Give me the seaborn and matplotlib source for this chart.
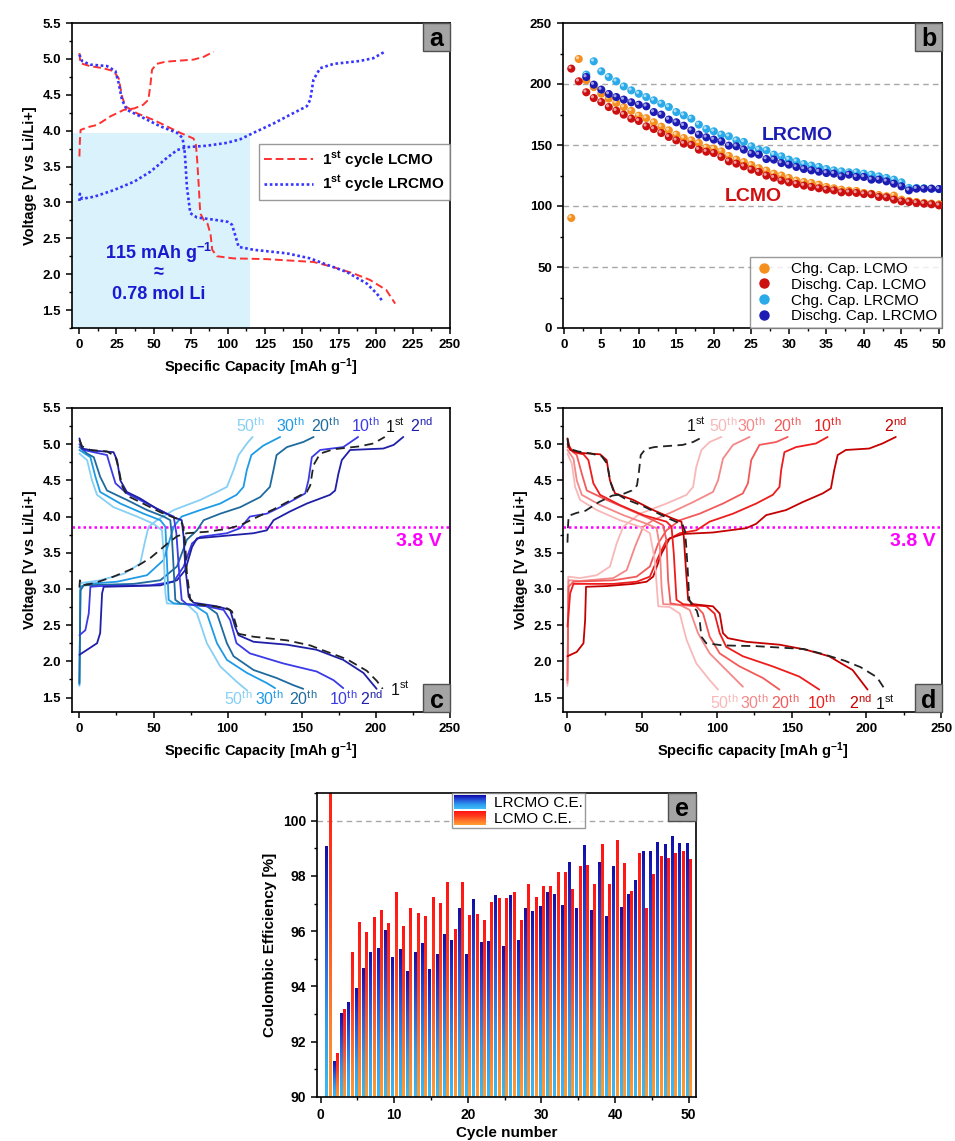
import numpy as np
import pandas as pd
import matplotlib
matplotlib.use("Agg")
import matplotlib.pyplot as plt
import seaborn as sns
from matplotlib.patches import Rectangle
from matplotlib.lines import Line2D
from matplotlib.legend_handler import HandlerBase
from matplotlib.ticker import MultipleLocator
from matplotlib.colors import LinearSegmentedColormap
import matplotlib.transforms as mtransforms

# ---------------------------------------------------------------- data
# first cycle (panel a, reused as the dashed reference in c and d)
lcmo_1st_chg = [(0, 3.64), (0.3, 3.85), (0.8, 4.01), (6, 4.05), (12, 4.08), (21, 4.2), (30, 4.29),
                (37, 4.31), (43, 4.36), (46.5, 4.43), (47.8, 4.62), (49, 4.85), (52, 4.93), (58, 4.96),
                (64, 4.97), (77, 4.99), (84, 5.03), (90.5, 5.1)]
lcmo_1st_dis = [(0, 5.08), (0.7, 4.94), (7, 4.9), (16, 4.87), (23, 4.83), (26.5, 4.73), (28.7, 4.48),
                (31, 4.34), (39, 4.24), (50, 4.15), (59, 4.06), (68, 3.97), (77, 3.89), (78.6, 3.8),
                (79.4, 3.6), (80.4, 3.27), (81.5, 2.85), (84, 2.75), (86.5, 2.7), (88.5, 2.55),
                (89.6, 2.34), (92.8, 2.25), (104, 2.22), (126, 2.21), (158, 2.17), (171, 2.1),
                (185, 2.01), (196, 1.92), (207, 1.78), (213, 1.59)]
lrcmo_1st_chg = [(0, 3.02), (0.3, 3.12), (1.8, 3.05), (10, 3.08), (23, 3.17), (37, 3.29), (48, 3.43),
                 (59, 3.62), (66, 3.73), (72.5, 3.77), (86, 3.79), (99.5, 3.83), (108.5, 3.88),
                 (117.5, 3.97), (131, 4.1), (142, 4.22), (153.4, 4.34), (155.7, 4.43), (157.9, 4.71),
                 (162.4, 4.87), (171.4, 4.93), (189, 4.97), (198.3, 5.01), (206, 5.1)]
lrcmo_1st_dis = [(0, 5.06), (1.8, 4.97), (7.4, 4.92), (18.6, 4.9), (24.3, 4.83), (26.5, 4.66),
                 (28.7, 4.43), (32, 4.29), (41, 4.2), (54.6, 4.06), (65.8, 3.97), (69.5, 3.9),
                 (70.8, 3.75), (71.4, 3.6), (72.5, 3.22), (74.8, 2.85), (79.3, 2.79), (90.5, 2.76),
                 (100, 2.73), (102.9, 2.69), (105, 2.55), (107.4, 2.38), (117.5, 2.34), (140, 2.29),
                 (155.7, 2.22), (164.6, 2.15), (180.4, 2.03), (193.8, 1.87), (200.6, 1.73), (204.6, 1.62)]

# LRCMO galvanostatic curves (panel c)
lrcmo_dis_2 = [(0, 5.08), (1.8, 4.94), (9.7, 4.91), (23, 4.89), (25.4, 4.78), (27.6, 4.5), (32, 4.34),
               (41, 4.25), (52, 4.11), (63.6, 3.99), (69, 3.95), (70.3, 3.72), (71.4, 3.31), (73.7, 2.89),
               (77, 2.81), (92.8, 2.76), (101.7, 2.71), (105, 2.48), (107.4, 2.36), (117.5, 2.27),
               (140, 2.23), (160, 2.16), (178, 2.02), (191.6, 1.84), (200.5, 1.62)]
lrcmo_dis_10 = [(0, 5.0), (2.9, 4.92), (14, 4.87), (18.6, 4.85), (20.9, 4.69), (24.3, 4.46), (32, 4.32),
                (45.6, 4.18), (59, 4.04), (63.6, 4.0), (65.4, 3.77), (67, 3.31), (69, 2.85), (72.5, 2.79),
                (86, 2.76), (97.3, 2.71), (101.7, 2.57), (106, 2.25), (115, 2.11), (137.7, 1.97),
                (160, 1.86), (171.4, 1.74), (178, 1.63)]
lrcmo_dis_20 = [(0, 4.96), (5.2, 4.87), (9.7, 4.82), (14, 4.55), (18.6, 4.36), (32, 4.23), (45.6, 4.09),
                (56.8, 4.0), (61.3, 3.95), (62.4, 3.72), (63.5, 3.31), (64.7, 2.85), (68, 2.8), (86, 2.76),
                (92.8, 2.66), (99.5, 2.25), (104, 2.07), (117.5, 1.88), (133, 1.77), (144.4, 1.67),
                (151, 1.62)]
lrcmo_dis_30 = [(0, 4.92), (7.4, 4.82), (10.8, 4.55), (14, 4.34), (27.6, 4.18), (43.3, 4.04), (54.6, 3.95),
                (58, 3.86), (59, 3.4), (60.2, 2.85), (63.6, 2.8), (77, 2.78), (86, 2.66), (92.8, 2.25),
                (99.5, 2.02), (113, 1.84), (126.4, 1.7), (132, 1.63)]
lrcmo_dis_50 = [(0, 4.87), (5.2, 4.78), (8.5, 4.5), (11.9, 4.3), (23, 4.13), (38.9, 4.0), (50, 3.9),
                (55.7, 3.81), (56.8, 3.49), (58, 2.94), (59, 2.8), (72.5, 2.79), (79.3, 2.66), (86, 2.25),
                (95, 1.93), (106, 1.72), (113, 1.6)]
lrcmo_chg_2 = [(0, 2.09), (5.2, 2.16), (11.9, 2.25), (14, 2.39), (15.3, 2.94), (16.4, 3.03), (36.6, 3.04),
               (54.6, 3.05), (65.8, 3.12), (71.4, 3.26), (76, 3.58), (79.3, 3.7), (90.5, 3.72),
               (117.5, 3.77), (126.4, 3.81), (131, 3.95), (142, 4.07), (153.4, 4.18), (169, 4.3),
               (172.5, 4.36), (174.7, 4.59), (177, 4.78), (182.6, 4.92), (205, 4.94), (212, 4.99),
               (218.5, 5.1)]
lrcmo_chg_10 = [(0, 2.36), (4, 2.43), (6.3, 2.66), (7.4, 3.03), (14, 3.04), (47.8, 3.05), (63.6, 3.1),
                (70.3, 3.31), (76, 3.63), (81.5, 3.72), (99.5, 3.77), (108.5, 3.84), (115, 4.0),
                (126.4, 4.04), (135.4, 4.13), (144.4, 4.23), (152.3, 4.32), (154.5, 4.5), (156.8, 4.82),
                (162.4, 4.92), (178, 4.96), (188, 5.1)]
lrcmo_chg_20 = [(0, 1.7), (0.7, 2.98), (2.9, 3.05), (36.6, 3.07), (54.6, 3.12), (65.8, 3.31), (72.5, 3.68),
                (79.3, 3.81), (83.8, 3.95), (95, 4.04), (108.5, 4.13), (122, 4.27), (128.5, 4.41),
                (130.9, 4.64), (133, 4.85), (140, 4.96), (151, 5.03), (158, 5.1)]
lrcmo_chg_30 = [(0, 1.68), (0.7, 3.03), (5.2, 3.07), (25.4, 3.1), (45.6, 3.19), (56.8, 3.4), (63.6, 3.86),
                (69, 4.0), (81.5, 4.09), (95, 4.18), (106, 4.3), (110.7, 4.41), (112.9, 4.64), (116, 4.85),
                (124, 4.98), (135.4, 5.1)]
lrcmo_chg_50 = [(0, 1.66), (0.7, 3.08), (14, 3.12), (30, 3.21), (41, 3.35), (44.4, 3.67), (46.7, 3.86),
                (52.3, 3.95), (63.6, 4.09), (81.5, 4.23), (92.8, 4.34), (99.5, 4.41), (104, 4.64),
                (107.4, 4.85), (113, 5.01), (116.8, 5.1)]

# LCMO galvanostatic curves (panel d)
lcmo_dis_2 = [(0, 5.08), (1.8, 4.92), (8.4, 4.88), (21.8, 4.86), (26.2, 4.78), (28.4, 4.5), (31.8, 4.32),
              (44, 4.23), (57.3, 4.09), (70.7, 3.97), (76.2, 3.93), (77.8, 3.72), (79.1, 3.31), (80.7, 2.85),
              (84, 2.79), (97.3, 2.76), (101.8, 2.66), (104, 2.39), (107.3, 2.32), (119.6, 2.27),
              (141.8, 2.23), (159.6, 2.16), (175, 2.07), (190.7, 1.88), (200.7, 1.61)]
lcmo_dis_10 = [(0, 5.0), (4, 4.89), (10.7, 4.86), (14, 4.78), (17.3, 4.46), (21.8, 4.3), (35, 4.16),
               (50.7, 4.02), (66.2, 3.93), (69.6, 3.86), (71.1, 3.49), (72.9, 2.85), (77.3, 2.79),
               (92.9, 2.76), (98.4, 2.66), (101.8, 2.39), (106.2, 2.2), (117.3, 2.07), (137.3, 1.93),
               (155, 1.79), (168.4, 1.61)]
lcmo_dis_20 = [(0, 4.96), (6.2, 4.85), (9.6, 4.59), (12.9, 4.36), (26.2, 4.23), (41.8, 4.09), (57.3, 3.95),
               (64, 3.88), (66.2, 3.67), (67.3, 3.12), (68.9, 2.8), (75.1, 2.78), (86.2, 2.76), (90.7, 2.66),
               (95.1, 2.34), (101.8, 2.11), (115.1, 1.93), (130.7, 1.77), (141.8, 1.61)]
lcmo_dis_30 = [(0, 4.92), (4, 4.8), (6.2, 4.5), (9.6, 4.3), (21.8, 4.16), (37.3, 4.02), (53, 3.9),
               (59.6, 3.84), (61.8, 3.58), (62.9, 3.03), (64, 2.79), (75.1, 2.78), (81.8, 2.71),
               (87.3, 2.39), (95.1, 2.11), (106.2, 1.88), (117.3, 1.65)]
lcmo_dis_50 = [(0, 4.87), (2.9, 4.73), (5.1, 4.41), (8.4, 4.23), (19.6, 4.09), (35, 3.95), (48.4, 3.86),
               (55.1, 3.77), (58.4, 3.4), (60.7, 2.76), (68.4, 2.75), (75.1, 2.66), (79.6, 2.3),
               (86.2, 1.97), (95.1, 1.74), (100.7, 1.61)]
lcmo_chg_2 = [(0, 2.07), (6.2, 2.13), (10.7, 2.25), (11.8, 2.57), (12.4, 3.03), (26.2, 3.04), (44, 3.07),
              (52.9, 3.1), (57.3, 3.17), (62.9, 3.49), (68.4, 3.7), (77.3, 3.76), (97.3, 3.78),
              (119.6, 3.84), (126.2, 3.9), (132.9, 4.02), (146.2, 4.09), (157.3, 4.2), (170.7, 4.32),
              (176.2, 4.39), (178.4, 4.64), (180.7, 4.85), (186.2, 4.92), (201.8, 4.94), (210.7, 5.01),
              (219.6, 5.1)]
lcmo_chg_10 = [(0, 2.48), (1.8, 2.94), (4, 3.07), (30.7, 3.07), (46.2, 3.1), (55.1, 3.17), (61.8, 3.49),
               (66.2, 3.67), (75.1, 3.77), (86.2, 3.81), (95.1, 3.93), (110.7, 4.04), (126.2, 4.18),
               (137.3, 4.3), (141.8, 4.41), (142.9, 4.64), (145.1, 4.89), (152.9, 4.96), (166.2, 5.01),
               (174, 5.1)]
lcmo_chg_20 = [(0, 1.74), (0.7, 3.03), (4, 3.1), (30.7, 3.12), (46.2, 3.17), (55.1, 3.31), (60.7, 3.63),
               (66.2, 3.81), (75.1, 3.95), (88.4, 4.04), (104, 4.18), (117.3, 4.32), (120.7, 4.46),
               (122.9, 4.78), (128.4, 4.99), (139.6, 5.03), (147.3, 5.1)]
lcmo_chg_30 = [(0, 1.7), (0.7, 3.12), (8.4, 3.11), (30.7, 3.15), (39.6, 3.26), (45.1, 3.58), (50.7, 3.86),
               (57.3, 3.95), (70.7, 4.07), (84, 4.2), (97.3, 4.34), (100.7, 4.5), (104, 4.8),
               (110.7, 4.99), (121.8, 5.1)]
lcmo_chg_50 = [(0, 1.66), (0.5, 3.17), (8.4, 3.15), (19.6, 3.19), (28.4, 3.31), (32.9, 3.63), (37.3, 3.86),
               (48.4, 4.04), (66.2, 4.18), (79.6, 4.3), (84, 4.41), (86.2, 4.69), (89.6, 4.92),
               (95.1, 5.03), (102.9, 5.1)]

# capacity retention (panel b)
cycles = list(range(1, 51))
chg_lcmo = [90.2, 220.5, 203, 197.5, 192, 188, 184.4, 181, 178, 174, 172, 168.6, 165, 162, 158.5, 155.7,
            153.8, 151.6, 147.8, 147, 144.8, 141, 138, 136, 133.6, 131, 129, 126.5, 125, 123, 120.8,
            119.7, 118.9, 117.5, 115.6, 114.5, 113.4, 112.6, 112.3, 110.7, 110, 109, 108, 108.5, 105.2,
            104.1, 103.3, 102.5, 102, 101.4]
dis_lcmo = [212.6, 202.2, 193.2, 188.5, 185.2, 181.1, 178.1, 174.9, 171.6, 169.7, 165.3, 163.1, 159.8,
            156.6, 153.8, 151.1, 150, 146.2, 144.5, 143.4, 140.2, 136.6, 134.7, 132.5, 129.8, 127.9,
            124.9, 123.2, 120.8, 119.4, 118, 116.7, 115.6, 114.5, 113.4, 112.8, 111.2, 111.2, 110.7,
            109.8, 109.6, 107.4, 107.1, 105.2, 103.8, 103.3, 102.5, 101.9, 101.4, 100.5]
cycles_lrcmo = list(range(3, 51))
chg_lrcmo = [207.7, 218.6, 210.4, 205.7, 202.2, 198, 194.8, 192, 189.3, 186.6, 183.9, 181.1, 177, 174.3,
             171.6, 166.7, 163.1, 161.2, 158.5, 157.1, 153.8, 152.5, 148.9, 146.2, 145.6, 142.1, 140.7,
             138, 136.6, 134.4, 133.1, 132, 130.3, 129.2, 128.4, 127.6, 127.6, 126.5, 125.7, 124.3, 123,
             121.6, 119.4, 114.8, 114.8, 114.5, 114.2, 113.9]
dis_lrcmo = [205.7, 199.5, 195.4, 191.8, 189.3, 187.2, 185, 183, 181.7, 177, 174.9, 170.8, 168.6, 165.8,
             162, 158.5, 156.3, 154.4, 153, 149.5, 148.9, 146.2, 142.9, 142.1, 138.5, 138, 135.2, 133.9,
             132, 130.3, 129.2, 128.1, 127, 126.5, 124.3, 125.7, 123.8, 123.8, 121.6, 121.6, 120.2,
             118.3, 116.1, 112.8, 114.2, 114.2, 114.2, 113.9]

# coulombic efficiency (panel e)
ce_lrcmo = [99.06, 91.30, 93.01, 93.41, 93.92, 94.64, 95.22, 95.37, 96.02, 95.04, 95.35, 94.55, 95.23,
            95.55, 94.60, 95.15, 95.88, 95.65, 96.82, 95.17, 97.13, 95.58, 95.62, 97.28, 95.46, 97.29,
            95.66, 96.81, 96.71, 96.90, 97.41, 97.31, 96.93, 98.49, 96.83, 99.10, 96.75, 98.48, 96.54,
            98.35, 96.86, 97.31, 97.82, 98.90, 98.88, 99.22, 99.12, 99.43, 99.17, 99.18]
ce_lcmo = [102.5, 91.59, 93.18, 95.23, 96.30, 95.95, 96.49, 96.75, 96.28, 97.39, 96.16, 96.83, 96.65,
           96.54, 97.23, 96.99, 97.75, 96.06, 97.75, 96.58, 96.61, 96.40, 97.04, 97.17, 97.18, 97.39,
           96.40, 97.68, 97.23, 97.62, 97.62, 98.13, 98.13, 97.50, 98.33, 98.37, 97.68, 99.14, 97.69,
           99.28, 98.44, 97.44, 98.82, 96.83, 98.04, 98.72, 98.64, 98.80, 98.89, 98.59]

cycle_names = ["2nd", "10th", "20th", "30th", "50th"]
blue_shades = ["#1f1fa8", "#3a3ae6", "#1f6a9e", "#1e9be6", "#86cff5"]
red_shades = ["#c40000", "#ee1c1c", "#f25a5a", "#f48787", "#f8b8b8"]

# ---------------------------------------------------------------- style
sns.set_style("ticks")
plt.rcParams.update({
    "font.family": ["Liberation Sans", "DejaVu Sans"],
    "mathtext.fontset": "custom",
    "mathtext.rm": "Liberation Sans",
    "mathtext.bf": "Liberation Sans:bold",
    "mathtext.it": "Liberation Sans:italic",
    "axes.edgecolor": "black",
    "axes.linewidth": 1.2,
    "xtick.color": "black",
    "ytick.color": "black",
    "text.color": "black",
    "axes.labelcolor": "black",
    "xtick.major.size": 4.5,
    "ytick.major.size": 4.5,
    "xtick.minor.size": 2.5,
    "ytick.minor.size": 2.5,
    "xtick.major.width": 1.1,
    "ytick.major.width": 1.1,
    "xtick.minor.width": 1.0,
    "ytick.minor.width": 1.0,
})

W, H = 955, 1141
fig = plt.figure(figsize=(W / 100, H / 100), dpi=100)


def axes_px(left, top, right, bottom):
    return fig.add_axes([left / W, 1 - bottom / H, (right - left) / W, (bottom - top) / H])


ax_a = axes_px(72, 23, 450, 328)
ax_b = axes_px(563, 23, 942, 328)
ax_c = axes_px(72, 408, 450, 712)
ax_d = axes_px(563, 408, 942, 712)
ax_e = axes_px(317, 793, 696, 1097)

TICK_FS = 9.5
LABEL_FS = 10.5
CAP_LABEL = r"Specific Capacity [mAh g$^{\mathbf{-1}}$]"
V_LABEL = "Voltage [V vs Li/Li+]"


def style_ticks(ax, fs=TICK_FS):
    for lab in ax.get_xticklabels() + ax.get_yticklabels():
        lab.set_fontweight("bold")
        lab.set_fontsize(fs)
    ax.tick_params(which="both", top=False, right=False, direction="out")


def curve(ax, pts, color, ls="-", lw=1.3, z=2):
    df = pd.DataFrame(pts, columns=["cap", "v"])
    sns.lineplot(data=df, x="cap", y="v", sort=False, estimator=None, color=color,
                 linestyle=ls, lw=lw, ax=ax, zorder=z)


def panel_tag(ax, letter, top=True, w_px=27, h_px=28):
    bb = ax.get_position()
    w = w_px / (bb.width * W)
    h = h_px / (bb.height * H)
    y0 = 1 - h if top else 0
    ax.add_patch(Rectangle((1 - w, y0), w, h, transform=ax.transAxes, fc="#a4a4a4",
                           ec="#505050", lw=1.0, zorder=6, clip_on=False))
    ax.text(1 - w / 2, y0 + h / 2, letter, transform=ax.transAxes, ha="center",
            va="center_baseline", fontsize=18, fontweight="bold", zorder=7)


def voltage_axes(ax, xlim, ylim, xlabel):
    ax.set_xlim(*xlim)
    ax.set_ylim(*ylim)
    ax.yaxis.set_major_locator(MultipleLocator(0.5))
    ax.yaxis.set_minor_locator(MultipleLocator(0.25))
    ax.set_xlabel(xlabel, fontsize=LABEL_FS, fontweight="bold", labelpad=4)
    ax.set_ylabel(V_LABEL, fontsize=LABEL_FS, fontweight="bold", labelpad=4)


# ---------------------------------------------------------------- panel a
ax = ax_a
ax.fill_between([-5, 115], 1.25, 3.97, color="#daf2fb", lw=0, zorder=0)
curve(ax, lcmo_1st_chg, "#ff3030", ls=(0, (4, 2)), lw=1.4)
curve(ax, lcmo_1st_dis, "#ff3030", ls=(0, (4, 2)), lw=1.4)
curve(ax, lrcmo_1st_chg, "#3535ff", ls=(0, (1, 1)), lw=1.9)
curve(ax, lrcmo_1st_dis, "#3535ff", ls=(0, (1, 1)), lw=1.9)
voltage_axes(ax, (-5, 250), (1.25, 5.5), CAP_LABEL)
ax.xaxis.set_major_locator(MultipleLocator(25))
ax.xaxis.set_minor_locator(MultipleLocator(12.5))
for y, s in [(2.3, r"115 mAh g$^{\mathbf{-1}}$"), (2.02, "≈"), (1.72, "0.78 mol Li")]:
    ax.text(53.5, y, s, ha="center", va="center", fontsize=13, fontweight="bold", color="#1a1ad0")
handles_a = [Line2D([], [], color="#ff3030", ls=(0, (4, 2)), lw=1.4),
             Line2D([], [], color="#3535ff", ls=(0, (1, 1)), lw=1.9)]
leg = ax.legend(handles_a, [r"1$^{\mathbf{st}}$ cycle LCMO", r"1$^{\mathbf{st}}$ cycle LRCMO"],
                loc="upper right", bbox_to_anchor=(1.0, 0.603), borderaxespad=0,
                prop={"weight": "bold", "size": 11}, frameon=True, fancybox=False,
                edgecolor="#808080", handlelength=3.2, labelspacing=0.25, borderpad=0.35,
                handletextpad=0.6)
leg.get_frame().set_linewidth(1.0)
style_ticks(ax)
panel_tag(ax, "a", top=True)

# ---------------------------------------------------------------- panel b
ax = ax_b
b_series = [
    ("Chg. Cap. LCMO", cycles, chg_lcmo, "#f5901e"),
    ("Dischg. Cap. LCMO", cycles, dis_lcmo, "#cc1010"),
    ("Chg. Cap. LRCMO", cycles_lrcmo, chg_lrcmo, "#2aaae8"),
    ("Dischg. Cap. LRCMO", cycles_lrcmo, dis_lrcmo, "#1c1cb4"),
]
for yv in (50, 100, 150, 200):
    ax.axhline(yv, color="#a8a8a8", lw=1.0, ls=(0, (4, 3)), zorder=0)
shine = mtransforms.offset_copy(ax.transData, fig=fig, x=-1.3, y=1.3, units="dots")
for name, xs, ys, col in b_series:
    df = pd.DataFrame({"cycle": xs, "cap": ys})
    sns.scatterplot(data=df, x="cycle", y="cap", color=col, s=34, edgecolor="none",
                    ax=ax, zorder=3, legend=False)
    sns.scatterplot(data=df, x="cycle", y="cap", color="white", s=5, edgecolor="none",
                    alpha=0.6, ax=ax, zorder=3, legend=False)
    ax.collections[-1].set_offset_transform(shine)
ax.set_xlim(-0.1, 50.4)
ax.set_ylim(0, 250)
ax.xaxis.set_major_locator(MultipleLocator(5))
ax.xaxis.set_minor_locator(MultipleLocator(2.5))
ax.yaxis.set_major_locator(MultipleLocator(50))
ax.yaxis.set_minor_locator(MultipleLocator(25))
ax.set_xlabel("")
ax.set_ylabel("")
ax.text(31.1, 157.6, "LRCMO", ha="center", va="center", fontsize=14, fontweight="bold", color="#1c1cb4")
ax.text(25.3, 107.9, "LCMO", ha="center", va="center", fontsize=14, fontweight="bold", color="#d01010")
handles_b = [Line2D([], [], marker="o", ls="none", color=c, markersize=6.5) for _, _, _, c in b_series]
leg = ax.legend(handles_b, [n for n, _, _, _ in b_series], loc="lower right", borderaxespad=0,
                prop={"size": 11}, frameon=True, fancybox=False, edgecolor="#808080",
                handlelength=1.2, labelspacing=0.12, borderpad=0.3, handletextpad=1.2)
leg.get_frame().set_linewidth(1.0)
style_ticks(ax)
panel_tag(ax, "b", top=True)


# ---------------------------------------------------------------- panels c, d
def cycling_panel(ax, chg_list, dis_list, first_chg, first_dis, shades, xlim, xlabel,
                  top_pos, bottom_pos, volt_x):
    ax.axhline(3.85, color="#ff00ff", lw=1.8, ls=(0, (1, 1.2)), zorder=1)
    for pts, col in zip(chg_list[::-1], shades[::-1]):
        curve(ax, pts, col)
    for pts, col in zip(dis_list[::-1], shades[::-1]):
        curve(ax, pts, col)
    curve(ax, first_chg, "#222222", ls=(0, (5, 3)), lw=1.3, z=3)
    curve(ax, first_dis, "#222222", ls=(0, (5, 3)), lw=1.3, z=3)
    voltage_axes(ax, xlim, (1.3, 5.5), xlabel)
    ax.xaxis.set_major_locator(MultipleLocator(50))
    ax.xaxis.set_minor_locator(MultipleLocator(25))
    names = ["1st"] + cycle_names
    cols = ["#111111"] + shades
    sup = {"1st": ("1", "st"), "2nd": ("2", "nd")}
    for nm, col in zip(names, cols):
        num, suf = sup.get(nm, (nm[:-2], "th"))
        label = num + r"$^{\rm " + suf + "}$"
        x, y = top_pos[nm]
        ax.text(x, y, label, ha="center", va="center", fontsize=11.5, color=col)
        x, y = bottom_pos[nm]
        ax.text(x, y, label, ha="center", va="center", fontsize=11.5, color=col)
    ax.text(volt_x, 3.65, "3.8 V", ha="center", va="center", fontsize=14, fontweight="bold",
            color="#ff00ff")
    style_ticks(ax)


cycling_panel(ax_c,
              [lrcmo_chg_2, lrcmo_chg_10, lrcmo_chg_20, lrcmo_chg_30, lrcmo_chg_50],
              [lrcmo_dis_2, lrcmo_dis_10, lrcmo_dis_20, lrcmo_dis_30, lrcmo_dis_50],
              lrcmo_1st_chg, lrcmo_1st_dis, blue_shades, (-5, 250), CAP_LABEL,
              {"50th": (115, 5.25), "30th": (142, 5.25), "20th": (166, 5.25), "10th": (193, 5.25),
               "1st": (213, 5.25), "2nd": (231, 5.25)},
              {"50th": (107, 1.48), "30th": (128, 1.48), "20th": (151, 1.48), "10th": (178, 1.48),
               "2nd": (197, 1.48), "1st": (216, 1.62)},
              229)
panel_tag(ax_c, "c", top=False)

cycling_panel(ax_d,
              [lcmo_chg_2, lcmo_chg_10, lcmo_chg_20, lcmo_chg_30, lcmo_chg_50],
              [lcmo_dis_2, lcmo_dis_10, lcmo_dis_20, lcmo_dis_30, lcmo_dis_50],
              lcmo_1st_chg, lcmo_1st_dis, red_shades, (-3, 250.5),
              r"Specific capacity [mAh g$^{\mathbf{-1}}$]",
              {"1st": (86, 5.26), "50th": (104, 5.26), "30th": (123, 5.26), "20th": (147, 5.26),
               "10th": (174, 5.26), "2nd": (219.6, 5.26)},
              {"50th": (105, 1.43), "30th": (125, 1.43), "20th": (146, 1.43), "10th": (170, 1.43),
               "2nd": (196, 1.43), "1st": (212, 1.43)},
              231)
panel_tag(ax_d, "d", top=False)

# ---------------------------------------------------------------- panel e
ax = ax_e
e_df = pd.DataFrame({
    "cycle": cycles + cycles,
    "ce": ce_lrcmo + ce_lcmo,
    "cell": ["LRCMO C.E."] * len(cycles) + ["LCMO C.E."] * len(cycles),
})
ax.axhline(100, color="#a8a8a8", lw=1.0, ls=(0, (4, 3)), zorder=0)
sns.barplot(data=e_df, x="cycle", y="ce", hue="cell", native_scale=True, width=0.9, gap=0.3,
            palette={"LRCMO C.E.": "#2a6fe0", "LCMO C.E.": "#ff4a20"}, errorbar=None,
            legend=False, ax=ax, zorder=2)

blue_cmap = LinearSegmentedColormap.from_list(
    "blue_bar", [(0, "#3cbaf6"), (0.3, "#2f9cee"), (0.6, "#2662dc"), (0.85, "#1a2cc4"), (1, "#1010a8")])
red_cmap = LinearSegmentedColormap.from_list(
    "red_bar", [(0, "#ff9c30"), (0.35, "#ff6c28"), (0.65, "#ff3a1c"), (1, "#ff1414")])
grad = np.linspace(0, 1, 128).reshape(-1, 1)
bars = [p for p in ax.patches if isinstance(p, Rectangle)]
n_c = len(cycles)
# each bar rectangle is filled with a vertical gradient running from the axis floor to its top
for i, p in enumerate(bars[:2 * n_c]):
    cmap = blue_cmap if i < n_c else red_cmap
    x0, w, top = p.get_x(), p.get_width(), p.get_y() + p.get_height()
    ax.imshow(grad, extent=[x0, x0 + w, 90, top], origin="lower", aspect="auto",
              cmap=cmap, zorder=2, interpolation="bilinear")
    p.set_facecolor("none")
    p.set_edgecolor("none")

ax.set_xlim(-0.5, 51)
ax.set_ylim(90, 101)
ax.set_aspect("auto")
ax.xaxis.set_major_locator(MultipleLocator(10))
ax.xaxis.set_minor_locator(MultipleLocator(5))
ax.yaxis.set_major_locator(MultipleLocator(2))
ax.yaxis.set_minor_locator(MultipleLocator(1))
ax.set_xlabel("Cycle number", fontsize=11, fontweight="bold", labelpad=3)
ax.set_ylabel("Coulombic Efficiency [%]", fontsize=11, fontweight="bold", labelpad=4)


class GradientHandle:
    def __init__(self, cmap):
        self.cmap = cmap


class GradientHandler(HandlerBase):
    def create_artists(self, legend, orig_handle, xdescent, ydescent, width, height,
                       fontsize, trans):
        n = 14
        arts = []
        for k in range(n):
            arts.append(Rectangle((-xdescent, -ydescent + height * k / n), width, height / n + 0.3,
                                  fc=orig_handle.cmap(k / (n - 1)), ec="none", transform=trans))
        return arts


h_blue, h_red = GradientHandle(blue_cmap), GradientHandle(red_cmap)
leg = ax.legend([h_blue, h_red], ["LRCMO C.E.", "LCMO C.E."],
                handler_map={GradientHandle: GradientHandler()},
                loc="upper left", bbox_to_anchor=(0.355, 1.0), borderaxespad=0,
                prop={"size": 11}, frameon=True, fancybox=False, edgecolor="#808080",
                handlelength=2.1, handleheight=1.0, labelspacing=0.05, borderpad=0.15,
                handletextpad=0.5)
leg.get_frame().set_linewidth(1.0)
leg.set_zorder(8)
style_ticks(ax, fs=10)
panel_tag(ax, "e", top=True, w_px=28, h_px=28)

fig.savefig("out.png", dpi=100, facecolor="white")
